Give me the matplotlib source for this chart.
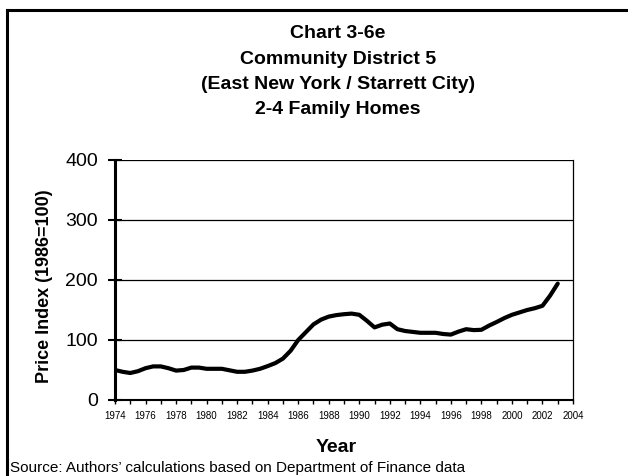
import matplotlib
matplotlib.use("Agg")
import matplotlib.pyplot as plt
from matplotlib.lines import Line2D
from matplotlib.ticker import MultipleLocator

# price index at half-year steps
years = [1974.0, 1974.5, 1975.0, 1975.5, 1976.0, 1976.5, 1977.0, 1977.5,
         1978.0, 1978.5, 1979.0, 1979.5, 1980.0, 1980.5, 1981.0, 1981.5,
         1982.0, 1982.5, 1983.0, 1983.5, 1984.0, 1984.5, 1985.0, 1985.5,
         1986.0, 1986.5, 1987.0, 1987.5, 1988.0, 1988.5, 1989.0, 1989.5,
         1990.0, 1990.5, 1991.0, 1991.5, 1992.0, 1992.5, 1993.0, 1993.5,
         1994.0, 1994.5, 1995.0, 1995.5, 1996.0, 1996.5, 1997.0, 1997.5,
         1998.0, 1998.5, 1999.0, 1999.5, 2000.0, 2000.5, 2001.0, 2001.5,
         2002.0, 2002.5, 2003.0]
index = [50, 47, 45, 48, 53, 56, 56, 53,
         49, 50, 54, 54, 52, 52, 52, 49.5,
         47, 47, 49, 52, 56.5, 61.5, 69, 82,
         100, 113, 126, 134, 139, 141.5, 143, 144,
         142, 132, 121, 125.5, 127.5, 118, 115, 113.5,
         112, 112, 112, 110, 109, 114, 118, 116.5,
         117, 124, 130, 136.5, 142, 146, 150, 153,
         157, 174, 194]

x_labels = [str(y) for y in range(1974, 2005, 2)]
y_ticks = [0, 100, 200, 300, 400]
title_lines = ["Chart 3-6e", "Community District 5",
               "(East New York / Starrett City)", "2-4 Family Homes"]

plt.rcParams["font.family"] = ["Liberation Sans", "DejaVu Sans"]

W, H = 628, 476
fig = plt.figure(figsize=(W / 100, H / 100), dpi=100)
fig.patch.set_facecolor("white")
ax = fig.add_axes([115 / W, 1 - 400 / H, 458 / W, 240 / H])

ax.plot(years, index, color="black", lw=3.0, solid_joinstyle="round",
        solid_capstyle="round", zorder=3)

ax.set_xlim(1974, 2004)
ax.set_ylim(0, 400)
ax.set_yticks(y_ticks)
ax.set_yticklabels([str(v) for v in y_ticks], fontsize=14)
ax.set_xticks(range(1974, 2005, 2))
ax.set_xticklabels(x_labels, fontsize=7)
ax.xaxis.set_minor_locator(MultipleLocator(1))
ax.tick_params(axis="x", which="both", direction="out", length=3, width=1, pad=5)
ax.tick_params(axis="y", direction="inout", length=10.5, width=1.5, pad=7)

for v in y_ticks[1:]:
    ax.axhline(v, color="black", lw=0.9, zorder=1)

ax.spines["left"].set_linewidth(2.2)
ax.spines["bottom"].set_linewidth(1.5)
ax.spines["right"].set_linewidth(0.9)
ax.spines["top"].set_visible(False)

# axis titles
fig.text(45 / W, 1 - 286 / H, "Price Index (1986=100)", rotation=90, ha="center",
         va="center", fontsize=13, fontweight="bold")
fig.text(336 / W, 1 - 448 / H, "Year", ha="center", va="center", fontsize=14,
         fontweight="bold")

# chart title, one line at a time
for i, line in enumerate(title_lines):
    fig.text(338 / W, 1 - (34 + 25.3 * i) / H, line, ha="center", va="center",
             fontsize=14, fontweight="bold")

fig.text(10 / W, 1 - 468 / H, "Source: Authors\u2019 calculations based on Department of Finance data",
         ha="left", va="center", fontsize=11)

# outer frame (cropped on right and bottom like the original)
fig.add_artist(Line2D([6.5 / W, 6.5 / W], [0, 1 - 9.5 / H], transform=fig.transFigure,
                      color="black", lw=2.2))
fig.add_artist(Line2D([6.5 / W, 1], [1 - 9.5 / H, 1 - 9.5 / H], transform=fig.transFigure,
                      color="black", lw=2.2))

fig.savefig("out.png", dpi=100, facecolor="white")
